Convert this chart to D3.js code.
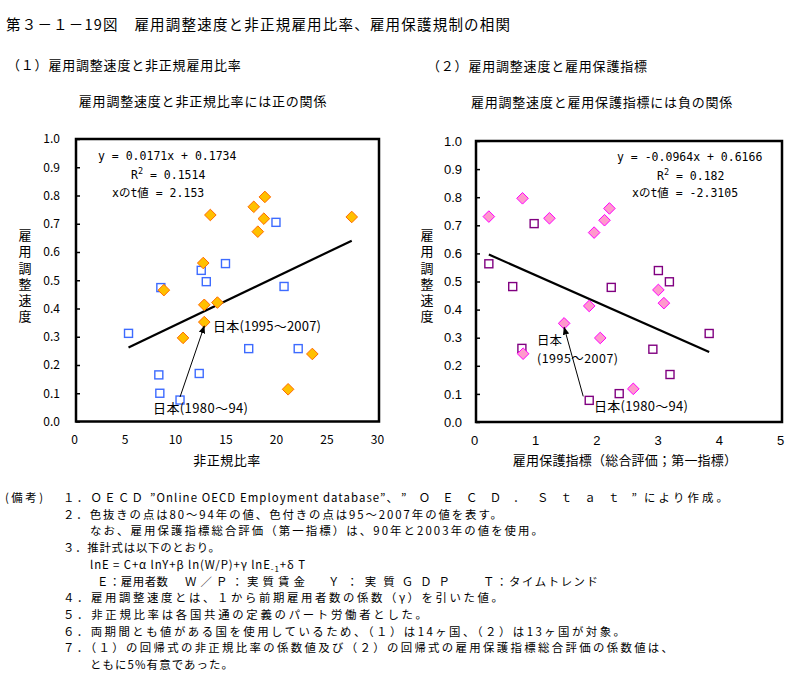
<!DOCTYPE html>
<html><head><meta charset="utf-8">
<script src="https://cdn.jsdelivr.net/npm/d3@7/dist/d3.min.js"></script>
<style>
body{margin:0;background:#fff;}
svg{display:block;font-family:"Noto Sans CJK JP","Noto Sans",sans-serif;}
</style></head>
<body><svg id="c" width="812" height="677"></svg>
<script>
// ---- data ----
const leftX80 = [19.8, 14.8, 12.4, 12.9, 20.6, 8.4, 5.2, 17.1, 22.0, 8.2, 12.2, 8.3, 10.3];
const leftY80 = [0.705, 0.559, 0.535, 0.495, 0.478, 0.474, 0.312, 0.258, 0.258, 0.165, 0.170, 0.100, 0.076];
const leftX95 = [13.3, 17.6, 18.7, 18.6, 18.0, 27.3, 12.6, 8.7, 12.7, 14.0, 12.7, 10.6, 23.4, 21.0];
const leftY95 = [0.731, 0.760, 0.795, 0.718, 0.672, 0.724, 0.561, 0.465, 0.413, 0.421, 0.352, 0.296, 0.239, 0.114];
const rightX80 = [0.95, 0.21, 0.60, 2.98, 3.16, 2.21, 3.81, 0.75, 2.89, 3.17, 2.34, 1.85];
const rightY80 = [0.706, 0.563, 0.482, 0.539, 0.499, 0.479, 0.315, 0.262, 0.259, 0.169, 0.101, 0.077];
const rightX95 = [0.21, 0.76, 1.20, 1.93, 2.10, 2.18, 2.98, 3.07, 1.85, 1.44, 2.03, 0.77, 2.57];
const rightY95 = [0.731, 0.796, 0.725, 0.674, 0.718, 0.760, 0.470, 0.423, 0.413, 0.351, 0.299, 0.243, 0.118];
const leftTrendX = [5.2, 27.3];
const leftTrendY = [0.262, 0.640];
const rightTrendX = [0.21, 3.81];
const rightTrendY = [0.596, 0.249];
const japanLeft80 = [10.3, 0.076], japanLeft95 = [12.7, 0.352];
const japanRight80 = [1.85, 0.077], japanRight95 = [1.44, 0.351];
const yTicks = [0, 0.1, 0.2, 0.3, 0.4, 0.5, 0.6, 0.7, 0.8, 0.9, 1.0];
const leftXTicks = [0, 5, 10, 15, 20, 25, 30];
const rightXTicks = [0, 1, 2, 3, 4, 5];

const svg = d3.select("#c");
const JP = '"Noto Sans CJK JP",sans-serif';

function txt(x, y, s, size, opts = {}) {
  const t = svg.append("text").attr("x", x).attr("y", y).text(s)
    .attr("font-size", size).attr("fill", "#000")
    .attr("font-family", opts.font || JP);
  if (opts.anchor) t.attr("text-anchor", opts.anchor);
  if (opts.ls != null) t.attr("letter-spacing", opts.ls);
  if (opts.len) t.attr("textLength", opts.len).attr("lengthAdjust", "spacing");
  return t;
}
txt(6, 30, "第３－１－19図　雇用調整速度と非正規雇用比率、雇用保護規制の相関", 14.5, {len: 504});
txt(7, 70, "（１）雇用調整速度と非正規雇用比率", 13, {ls: 0.8});
txt(427, 71, "（２）雇用調整速度と雇用保護指標", 13, {ls: 0.8});
txt(203, 106, "雇用調整速度と非正規比率には正の関係", 13, {anchor: "middle", ls: 0.8});
txt(602, 107, "雇用調整速度と雇用保護指標には負の関係", 13, {anchor: "middle", ls: 0.8});

function panel(cfg) {
  const x = d3.scaleLinear().domain(cfg.xDomain).range([cfg.x0, cfg.x1]);
  const y = d3.scaleLinear().domain([0, 1]).range([cfg.yB, cfg.yT]);
  const g = svg.append("g");
  const ya = g.append("g").attr("transform", `translate(${cfg.x0},0)`)
    .call(d3.axisLeft(y).tickValues(yTicks).tickFormat(d3.format(".1f"))
      .tickSizeInner(-4).tickSizeOuter(0).tickPadding(cfg.yPad));
  ya.select(".domain").remove();
  ya.selectAll("text").attr("font-size", cfg.tickSize).attr("font-family", cfg.tickFont).attr("fill", "#000");
  ya.selectAll("line").attr("stroke", "#000").attr("stroke-width", 1.5);
  const xa = g.append("g").attr("transform", `translate(0,${cfg.yB})`)
    .call(d3.axisBottom(x).tickValues(cfg.xTicks).tickFormat(d3.format("d"))
      .tickSize(0).tickPadding(14));
  xa.select(".domain").remove();
  xa.selectAll("text").attr("font-size", cfg.tickSize).attr("font-family", cfg.tickFont).attr("fill", "#000").attr("dx", -2);
  g.append("rect").attr("x", cfg.x0).attr("y", cfg.yT).attr("width", cfg.x1 - cfg.x0).attr("height", cfg.yB - cfg.yT)
    .attr("fill", "none").attr("stroke", "#000").attr("stroke-width", 2.5);
  g.append("line").attr("x1", x(cfg.trendX[0])).attr("y1", y(cfg.trendY[0]))
    .attr("x2", x(cfg.trendX[1])).attr("y2", y(cfg.trendY[1]))
    .attr("stroke", "#000").attr("stroke-width", 2.2);
  g.selectAll("rect.sq").data(cfg.x80.map((v, i) => [v, cfg.y80[i]])).enter().append("rect")
    .attr("class", "sq").attr("x", d => x(d[0]) - 4).attr("y", d => y(d[1]) - 4)
    .attr("width", 8).attr("height", 8).attr("fill", "#fff")
    .attr("stroke", cfg.sqColor).attr("stroke-width", 1.4);
  const dsz = 5.8;
  g.selectAll("path.dm").data(cfg.x95.map((v, i) => [v, cfg.y95[i]])).enter().append("path")
    .attr("class", "dm")
    .attr("d", d => `M${x(d[0])},${y(d[1]) - dsz}L${x(d[0]) + dsz},${y(d[1])}L${x(d[0])},${y(d[1]) + dsz}L${x(d[0]) - dsz},${y(d[1])}Z`)
    .attr("fill", cfg.dmFill).attr("stroke", cfg.dmStroke).attr("stroke-width", 1);
  g.append("text").attr("x", cfg.yLabX).attr("y", 228.5)
    .attr("writing-mode", "vertical-rl").style("writing-mode", "vertical-rl")
    .attr("font-size", 13).attr("font-family", JP).attr("letter-spacing", 3.3)
    .text("雇用調整速度");
  g.append("text").attr("x", cfg.xLabX).attr("y", 465).attr("text-anchor", "middle")
    .attr("font-size", 13).attr("font-family", JP).attr("letter-spacing", cfg.xLabLs).text(cfg.xLab);
  cfg.eq.forEach(e => {
    const t = g.append("text").attr("x", e[0]).attr("y", e[1]).attr("font-size", 11.5)
      .attr("font-family", '"DejaVu Sans Mono","Noto Sans CJK JP",monospace');
    if (e[3]) {
      t.append("tspan").text("R");
      t.append("tspan").attr("font-size", 8.5).attr("dy", -5).text("2");
      t.append("tspan").attr("dy", 5).text(e[2]);
    } else t.text(e[2]);
  });
  const a0 = [x(cfg.j80[0]) + cfg.arrowStart[0], y(cfg.j80[1]) + cfg.arrowStart[1]];
  const a1 = [x(cfg.j95[0]), y(cfg.j95[1]) + 4];
  g.append("line").attr("x1", a0[0]).attr("y1", a0[1]).attr("x2", a1[0]).attr("y2", a1[1])
    .attr("stroke", "#000").attr("stroke-width", 1).attr("marker-end", "url(#arr)");
  cfg.jlabels.forEach(l => {
    g.append("text").attr("x", l[0]).attr("y", l[1]).attr("font-size", l[4] || 13)
      .attr("font-family", JP).attr("textLength", l[3]).attr("lengthAdjust", "spacing").text(l[2]);
  });
  return {x, y};
}

svg.append("defs").append("marker").attr("id", "arr").attr("viewBox", "0 0 10 10")
  .attr("refX", 9).attr("refY", 5).attr("markerWidth", 8).attr("markerHeight", 8)
  .attr("markerUnits", "userSpaceOnUse").attr("orient", "auto")
  .append("path").attr("d", "M0,1L10,5L0,9Z").attr("fill", "#000");

panel({
  xDomain: [0, 30], x0: 76, x1: 379, yB: 421.5, yT: 139, xTicks: leftXTicks,
  yPad: 16, tickSize: 12, tickFont: '"Noto Sans CJK JP",sans-serif',
  x80: leftX80, y80: leftY80, x95: leftX95, y95: leftY95,
  sqColor: "#3d6bff", dmFill: "#ffc000", dmStroke: "#ff6a00",
  trendX: leftTrendX, trendY: leftTrendY,
  yLabX: 25, xLabX: 227, xLab: "非正規比率", xLabLs: 0.5,
  eq: [[98, 160, "y = 0.0171x + 0.1734"], [131, 179, " = 0.1514", true], [112, 197, "xのt値 = 2.153"]],
  j80: japanLeft80, j95: japanLeft95, arrowStart: [0, -3],
  jlabels: [[213, 331, "日本(1995～2007)", 108], [153, 413, "日本(1980～94)", 95]]
});

panel({
  xDomain: [0, 5], x0: 476, x1: 782, yB: 422, yT: 141, xTicks: rightXTicks,
  yPad: 14, tickSize: 13, tickFont: '"Liberation Sans",Arial,sans-serif',
  x80: rightX80, y80: rightY80, x95: rightX95, y95: rightY95,
  sqColor: "#800080", dmFill: "#ff99cc", dmStroke: "#ff00ff",
  trendX: rightTrendX, trendY: rightTrendY,
  yLabX: 427, xLabX: 625, xLab: "雇用保護指標（総合評価；第一指標）", xLabLs: 0.2,
  eq: [[617, 161, "y = -0.0964x + 0.6166"], [657, 180, " = 0.182", true], [632, 197, "xのt値 = -2.3105"]],
  j80: japanRight80, j95: japanRight95, arrowStart: [-6, -4],
  jlabels: [[537, 344.5, "日本", 25, 12.4], [537, 362.5, "(1995～2007)", 81, 12.4], [594, 411, "日本(1980～94)", 94]]
});

// notes: [x, line index, text, width]
const notes = [
  [5, 0, "(備考)", 38],
  [63, 0, "１．ＯＥＣＤ", 80],
  [150, 0, "”Online OECD Employment database”、", 248],
  [401, 0, "”ＯＥＣＤ．Ｓｔａｔ”", 236],
  [644, 0, "により作成。", 84],
  [63, 1, "２．色抜きの点は80～94年の値、色付きの点は95～2007年の値を表す。", 439],
  [90, 2, "なお、雇用保護指標総合評価（第一指標）は、90年と2003年の値を使用。", 453],
  [63, 3, "３．推計式は以下のとおり。", 157],
  [90, 4, "lnE = C+α lnY+β ln(W/P)+γ lnE", 215],
  [97, 5, "Ｅ：雇用者数", 71],
  [185, 5, "Ｗ／Ｐ：実質賃金", 120],
  [328, 5, "Ｙ：実質ＧＤＰ", 122],
  [483, 5, "Ｔ：タイムトレンド", 115],
  [63, 6, "４．雇用調整速度とは、１から前期雇用者数の係数（γ）を引いた値。", 440],
  [63, 7, "５．非正規比率は各国共通の定義のパート労働者とした。", 364],
  [63, 8, "６．両期間とも値がある国を使用しているため、（１）は14ヶ国、（２）は13ヶ国が対象。", 562],
  [63, 9, "７．（１）の回帰式の非正規比率の係数値及び（２）の回帰式の雇用保護指標総合評価の係数値は、", 610],
  [90, 10, "ともに5%有意であった。", 143]
];
const noteY0 = 502, noteDy = 16.7;
notes.forEach(n => {
  const t = txt(n[0], noteY0 + n[1] * noteDy, n[2], 11.4, {len: n[3]});
  if (n[2].startsWith("lnE")) {
    t.append("tspan").attr("font-size", 8).attr("dy", 3).text("-1");
    t.append("tspan").attr("dy", -3).text("+δ T");
  }
});
</script></body></html>
